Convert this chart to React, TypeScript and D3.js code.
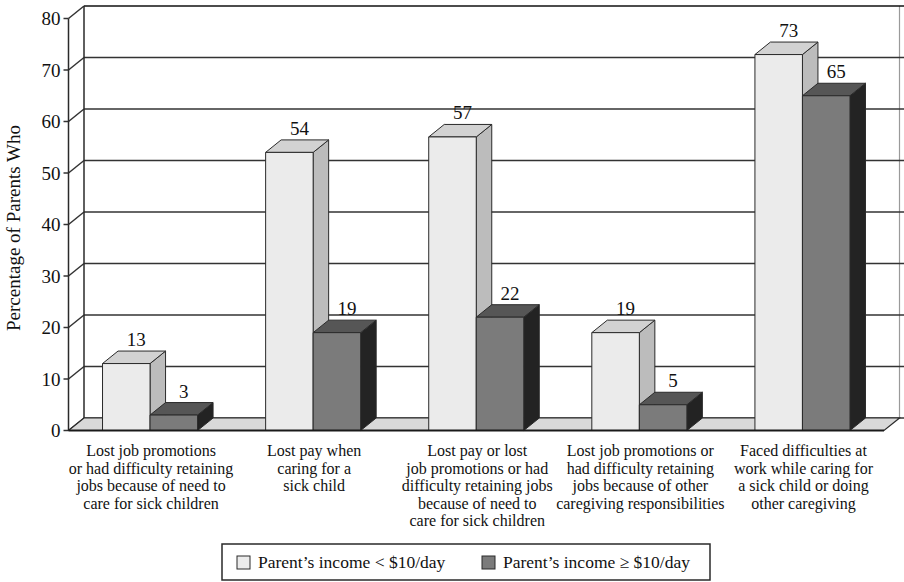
import React, { useEffect } from "react";
import * as d3 from "d3";

// Survey categories (each label split into its printed lines)
const categories: string[][] = [
  ["Lost job promotions", "or had difficulty retaining", "jobs because of need to", "care for sick children"],
  ["Lost pay when", "caring for a", "sick child"],
  ["Lost pay or lost", "job promotions or had", "difficulty retaining jobs", "because of need to", "care for sick children"],
  ["Lost job promotions or", "had difficulty retaining", "jobs because of other", "caregiving responsibilities"],
  ["Faced difficulties at", "work while caring for", "a sick child or doing", "other caregiving"],
];

const seriesNames = ["Parent\u2019s income < $10/day", "Parent\u2019s income \u2265 $10/day"];
const lowIncome = [13, 54, 57, 19, 73];
const highIncome = [3, 19, 22, 5, 65];
const yTicks = [0, 10, 20, 30, 40, 50, 60, 70, 80];
const yTitle = "Percentage of Parents Who";

const W = 904;
const H = 582;
const FONT = "'Liberation Serif', 'Times New Roman', serif";

// projection offset for the depth axis
const DX = 15.5;
const DY = -12.5;

const faces = [
  { front: "#ebebeb", top: "#d2d2d2", side: "#bcbcbc" },
  { front: "#7b7b7b", top: "#565656", side: "#232323" },
];

export default function App() {
  useEffect(() => {
    document.body.style.margin = "0";
  }, []);

  const x0 = 68.5;
  const x1 = 884;
  const y = d3.scaleLinear().domain([0, 80]).range([430.5, 18.5]);
  const xGroup = d3.scaleBand<number>().domain(d3.range(categories.length)).range([x0, x1]).padding(0);
  const xBar = d3
    .scaleBand<number>()
    .domain([0, 1])
    .range([0, xGroup.bandwidth()])
    .paddingInner(0)
    .paddingOuter(0.716);

  const series = [lowIncome, highIncome];
  const bw = xBar.bandwidth();
  const y0 = y(0);

  const bars: React.ReactNode[] = [];
  categories.forEach((_, i) => {
    series.forEach((vals, s) => {
      const v = vals[i];
      const left = (xGroup(i) as number) + (xBar(s) as number);
      const right = left + bw;
      const top = y(v);
      const c = faces[s];
      const pts = (arr: [number, number][]) => arr.map((p) => p.join(",")).join(" ");
      bars.push(
        <g key={`b${i}-${s}`} stroke="#2a2a2a" strokeWidth={1} strokeLinejoin="round">
          <polygon
            points={pts([
              [right, top],
              [right + DX, top + DY],
              [right + DX, y0 + DY],
              [right, y0],
            ])}
            fill={c.side}
          />
          <polygon
            points={pts([
              [left, top],
              [left + DX, top + DY],
              [right + DX, top + DY],
              [right, top],
            ])}
            fill={c.top}
          />
          <rect x={left} y={top} width={bw} height={y0 - top} fill={c.front} />
          <text
            x={(left + right) / 2 + 10}
            y={top + DY - 5}
            textAnchor="middle"
            fontFamily={FONT}
            fontSize={19}
            fill="#111"
            stroke="none"
          >
            {v}
          </text>
        </g>
      );
    });
  });

  return (
    <svg width={W} height={H} style={{ display: "block", background: "#fff" }}>
      {/* back wall */}
      <rect x={x0 + DX} y={y(80) + DY} width={x1 - x0} height={y0 - y(80)} fill="#fff" stroke="none" />
      <line x1={x1 + DX} x2={x1 + DX} y1={y(80) + DY} y2={y0 + DY} stroke="#9a9a9a" strokeWidth={1.2} />
      {/* gridlines on back wall and side wall */}
      {yTicks.map((t) => (
        <g key={`g${t}`} stroke="#333" strokeWidth={1.5}>
          <line x1={x0 + DX} x2={x1 + DX + 6} y1={y(t) + DY} y2={y(t) + DY} stroke={t === 80 ? "#111" : "#333"} />
          <line x1={x0} y1={y(t)} x2={x0 + DX} y2={y(t) + DY} />
          <line x1={x0 - 5} x2={x0} y1={y(t)} y2={y(t)} />
          <text
            x={x0 - 8}
            y={y(t)}
            dy="0.35em"
            textAnchor="end"
            fontFamily={FONT}
            fontSize={19}
            fill="#111"
            stroke="none"
          >
            {t}
          </text>
        </g>
      ))}
      <line x1={x0 + DX} x2={x0 + DX} y1={y(80) + DY} y2={y0 + DY} stroke="#2a2a2a" strokeWidth={1.5} />
      <line x1={x0} x2={x0} y1={y(80)} y2={y0} stroke="#2a2a2a" strokeWidth={1.5} />
      {/* floor */}
      <polygon
        points={[
          [x0, y0],
          [x0 + DX, y0 + DY],
          [x1 + DX, y0 + DY],
          [x1, y0],
        ]
          .map((p) => p.join(","))
          .join(" ")}
        fill="#d9d9d9"
        stroke="#2a2a2a"
        strokeWidth={1.2}
      />
      {bars}
      <line x1={x0} x2={x1} y1={y0} y2={y0} stroke="#1a1a1a" strokeWidth={2} />

      {/* y-axis title */}
      <text
        transform={`translate(20, ${228}) rotate(-90)`}
        textAnchor="middle"
        fontFamily={FONT}
        fontSize={19}
        fill="#111"
      >
        {yTitle}
      </text>

      {/* category labels */}
      {categories.map((lines, i) => (
        <text
          key={`c${i}`}
          x={(xGroup(i) as number) + xGroup.bandwidth() / 2 + 1}
          y={456}
          textAnchor="middle"
          fontFamily={FONT}
          fontSize={16}
          fill="#111"
        >
          {lines.map((l, k) => (
            <tspan key={k} x={(xGroup(i) as number) + xGroup.bandwidth() / 2 + 1} dy={k === 0 ? 0 : 17.5}>
              {l}
            </tspan>
          ))}
        </text>
      ))}

      {/* legend */}
      <rect x={222} y={544} width={488} height={36} fill="#fff" stroke="#2a2a2a" strokeWidth={1.5} />
      {seriesNames.map((name, s) => {
        const lx = s === 0 ? 237 : 482;
        return (
          <g key={`l${s}`}>
            <rect x={lx} y={556} width={13} height={13} fill={faces[s].front} stroke="#2a2a2a" strokeWidth={1} />
            <text x={lx + 21} y={568} fontFamily={FONT} fontSize={17.5} fill="#111">
              {name}
            </text>
          </g>
        );
      })}
    </svg>
  );
}
